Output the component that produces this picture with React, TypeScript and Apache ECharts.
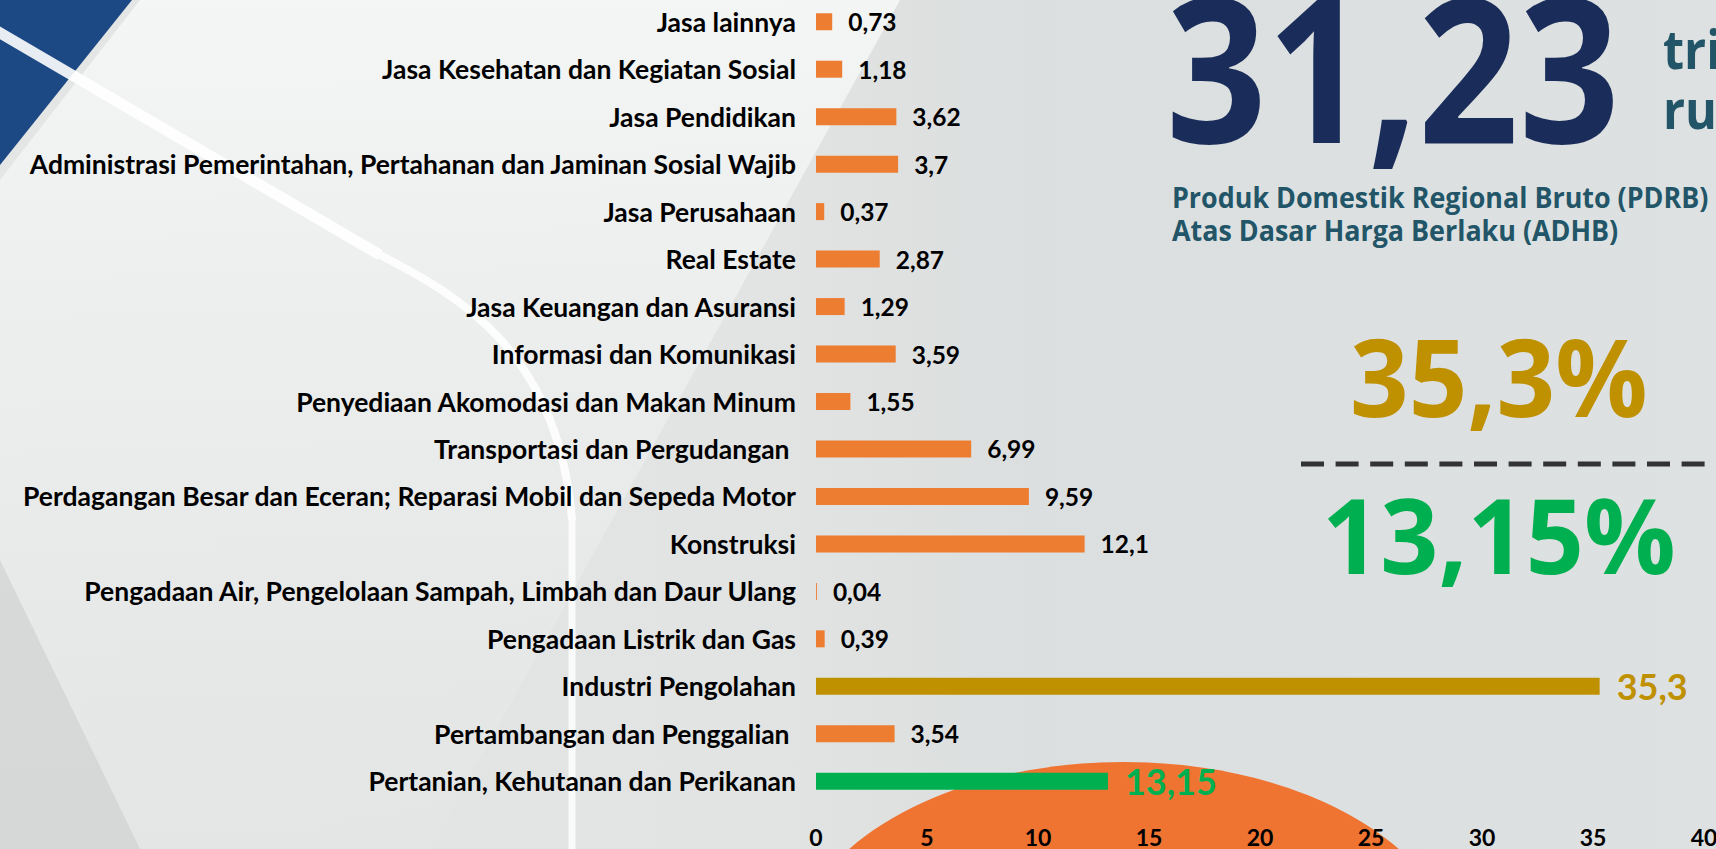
import React, { useEffect, useRef } from "react";
import * as echarts from "echarts";

const categories = [
  "Jasa lainnya",
  "Jasa Kesehatan dan Kegiatan Sosial",
  "Jasa Pendidikan",
  "Administrasi Pemerintahan, Pertahanan dan Jaminan Sosial Wajib",
  "Jasa Perusahaan",
  "Real Estate",
  "Jasa Keuangan dan Asuransi",
  "Informasi dan Komunikasi",
  "Penyediaan Akomodasi dan Makan Minum",
  "Transportasi dan Pergudangan ",
  "Perdagangan Besar dan Eceran; Reparasi Mobil dan Sepeda Motor",
  "Konstruksi",
  "Pengadaan Air, Pengelolaan Sampah, Limbah dan Daur Ulang",
  "Pengadaan Listrik dan Gas",
  "Industri Pengolahan",
  "Pertambangan dan Penggalian ",
  "Pertanian, Kehutanan dan Perikanan",
];

const values = [0.73, 1.18, 3.62, 3.7, 0.37, 2.87, 1.29, 3.59, 1.55, 6.99, 9.59, 12.1, 0.04, 0.39, 35.3, 3.54, 13.15];

const xMin = 0;
const xMax = 40;
const xInterval = 5;

const totalValue = "31,23";
const totalUnit = ["triliun", "rupiah"];
const subtitle = ["Produk Domestik Regional Bruto (PDRB)", "Atas Dasar Harga Berlaku (ADHB)"];

const industriIndex = 14;
const pertanianIndex = 16;

const ORANGE = "#ED7D31";
const GOLD = "#BF9000";
const GREEN = "#00B050";

const fmt = (v: number) => String(v).replace(".", ",");

export default function App() {
  const ref = useRef<HTMLDivElement>(null);

  useEffect(() => {
    document.body.style.margin = "0";
    const chart = echarts.init(ref.current!, undefined, { renderer: "svg" });

    const data = values.map((v, i) => {
      const special = i === industriIndex ? GOLD : i === pertanianIndex ? GREEN : null;
      return {
        value: v,
        itemStyle: { color: special || ORANGE },
        label: special
          ? { color: special, fontSize: 36, distance: 17 }
          : { color: "#000", fontSize: 24.5, distance: 16 },
      };
    });

    const bigText = (
      text: string,
      x: number,
      y: number,
      size: number,
      color: string,
      scaleX = 1
    ) => ({
      type: "text",
      x,
      y,
      scaleX,
      z: 20,
      style: {
        text,
        fill: color,
        font: `bold ${size}px "Open Sans", "Noto Sans", sans-serif`,
        textAlign: "left",
        textVerticalAlign: "middle",
        align: "left",
        verticalAlign: "middle",
      },
    });

    chart.setOption({
      animation: false,
      backgroundColor: "#dfe1e1",
      graphic: [
        {
          type: "rect",
          z: -30,
          silent: true,
          shape: { x: 0, y: 0, width: 1716, height: 849 },
          style: {
            fill: new echarts.graphic.LinearGradient(0, 0, 1, 0, [
              { offset: 0, color: "#e4e5e5" },
              { offset: 0.45, color: "#e2e3e3" },
              { offset: 0.6, color: "#dcdfdf" },
              { offset: 1, color: "#dee1e1" },
            ]),
          },
        },
        {
          type: "polygon",
          z: -29,
          silent: true,
          shape: { points: [[140, 0], [900, 0], [430, 849], [0, 849], [0, 180]] },
          style: {
            fill: new echarts.graphic.LinearGradient(0, 0, 0, 1, [
              { offset: 0, color: "rgba(246,247,247,0.9)" },
              { offset: 1, color: "rgba(228,229,229,0.6)" },
            ]),
          },
        },
        {
          type: "polygon",
          z: -28,
          silent: true,
          shape: { points: [[0, 560], [140, 849], [0, 849]] },
          style: { fill: "rgba(200,201,201,0.5)" },
        },
        {
          type: "polygon",
          z: -27,
          silent: true,
          shape: { points: [[0, 0], [132, 0], [0, 165]] },
          style: { fill: "#1c4984" },
        },
        {
          type: "line",
          z: -26,
          silent: true,
          shape: { x1: -5, y1: 30, x2: 380, y2: 255 },
          style: { stroke: "rgba(255,255,255,0.9)", lineWidth: 11 },
        },
        {
          type: "bezierCurve",
          z: -26,
          silent: true,
          shape: { x1: 380, y1: 255, cpx1: 450, cpy1: 292, cpx2: 558, cpy2: 345, x2: 572, y2: 520 },
          style: { stroke: "rgba(255,255,255,0.85)", lineWidth: 8, fill: "none" },
        },
        {
          type: "line",
          z: -26,
          silent: true,
          shape: { x1: 572, y1: 519, x2: 572, y2: 849 },
          style: { stroke: "rgba(255,255,255,0.8)", lineWidth: 7 },
        },
        {
          type: "ellipse",
          z: -25,
          silent: true,
          shape: { cx: 1124, cy: 962, rx: 333, ry: 200 },
          style: { fill: "#EF7331" },
        },
        bigText(totalValue, 1166, 65, 201, "#1a2d5a", 0.878),
        bigText(totalUnit[0], 1663, 48, 54, "#215567", 0.9),
        bigText(totalUnit[1], 1663, 108, 54, "#215567", 0.9),
        bigText(subtitle[0], 1172, 197, 28, "#215567", 0.96),
        bigText(subtitle[1], 1172, 230, 28, "#215567", 0.96),
        bigText(`${fmt(values[industriIndex])}%`, 1350, 375, 108, GOLD, 0.95),
        {
          type: "line",
          z: 20,
          silent: true,
          shape: { x1: 1301, y1: 464, x2: 1716, y2: 464 },
          style: { stroke: "#333333", lineWidth: 5, lineDash: [23, 11.6] },
        },
        bigText(`${fmt(values[pertanianIndex])}%`, 1322, 533, 105, GREEN, 0.97),
      ],
      grid: {
        left: 816,
        top: -2,
        width: 888,
        height: 807,
        outerBoundsMode: "none",
        containLabel: false,
      },
      xAxis: {
        type: "value",
        min: xMin,
        max: xMax,
        interval: xInterval,
        axisLine: { show: false },
        axisTick: { show: false },
        splitLine: { show: false },
        axisLabel: {
          color: "#000",
          fontSize: 23,
          fontWeight: "bold",
          fontFamily: "Lato, sans-serif",
          margin: 20,
        },
      },
      yAxis: {
        type: "category",
        inverse: true,
        data: categories,
        axisLine: { show: false },
        axisTick: { show: false },
        splitLine: { show: false },
        axisLabel: {
          color: "#000",
          fontSize: 26.5,
          fontWeight: "bold",
          fontFamily: "Lato, sans-serif",
          margin: 20,
        },
      },
      series: [
        {
          type: "bar",
          data,
          barWidth: 17,
          z: 5,
          label: {
            show: true,
            position: "right",
            fontWeight: "bold",
            fontFamily: "Lato, sans-serif",
            formatter: (p: any) => fmt(p.value),
          },
        },
      ],
    });

    return () => chart.dispose();
  }, []);

  return (
    <div
      ref={ref}
      style={{ position: "fixed", left: 0, top: 0, width: 1716, height: 849 }}
    />
  );
}
